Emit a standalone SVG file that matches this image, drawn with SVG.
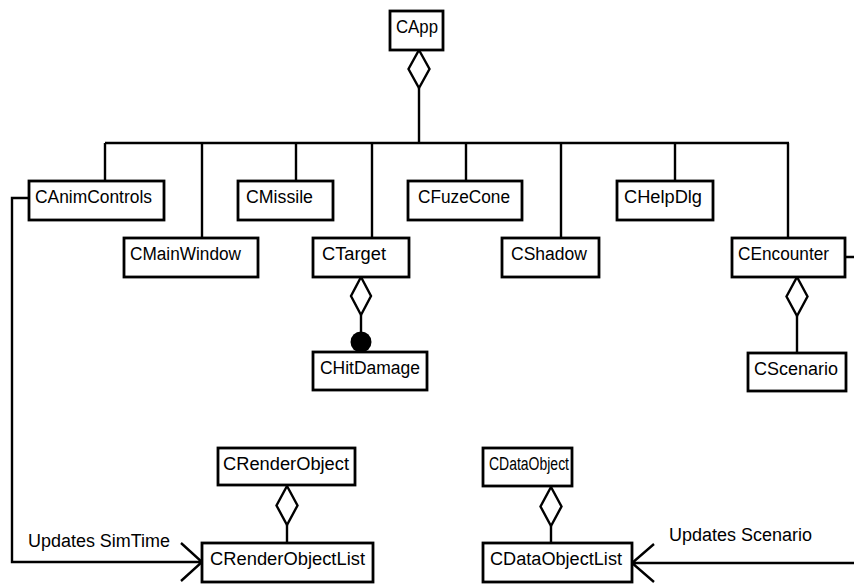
<svg xmlns="http://www.w3.org/2000/svg" width="854" height="584" viewBox="0 0 854 584">
<style>
.box{fill:#fff;stroke:#000;stroke-width:2.8}
.t{font-family:"Liberation Sans",Arial,sans-serif;font-size:18px;fill:#000}
.ln{fill:none;stroke:#000;stroke-width:2.4}
.dia{fill:#fff;stroke:#000;stroke-width:2.4}
</style>
<rect width="854" height="584" fill="#fff"/>
<g id="connectors">
<path class="ln" d="M419 88V143M105 143H789M105 143V181M202 143V238M296 143V181M372 143V238M466 143V181M561 143V238M675 143V181M788 143V238"/>
<path class="dia" d="M419 50L429.5 69L419 88L408.5 69Z"/>
<path class="ln" d="M361 315V334"/>
<path class="dia" d="M361 277L371 296L361 315L351 296Z"/>
<circle cx="361" cy="342" r="10.5" fill="#000"/>
<path class="ln" d="M797 316V353"/>
<path class="dia" d="M797 277L807.5 296.5L797 316L786.5 296.5Z"/>
<path class="ln" d="M287 525V543"/>
<path class="dia" d="M287 486L297.5 505.5L287 525L276.5 505.5Z"/>
<path class="ln" d="M551 526V543"/>
<path class="dia" d="M551 487L561.5 506.5L551 526L540.5 506.5Z"/>
<path class="ln" d="M29 198H12V562H202M181 543L202 562L181 581"/>
<path class="ln" d="M845 257H854M854 563H632M654 544L632 563L654 582"/>
</g>
<g id="CApp"><rect class="box" x="390" y="11" width="53" height="39"/><text class="t" x="396" y="33" textLength="42" lengthAdjust="spacingAndGlyphs">CApp</text></g>
<g id="CAnimControls"><rect class="box" x="29" y="181" width="135" height="39"/><text class="t" x="35" y="203" textLength="117" lengthAdjust="spacingAndGlyphs">CAnimControls</text></g>
<g id="CMissile"><rect class="box" x="238" y="181" width="95" height="39"/><text class="t" x="246" y="203" textLength="67" lengthAdjust="spacingAndGlyphs">CMissile</text></g>
<g id="CFuzeCone"><rect class="box" x="408" y="181" width="114" height="39"/><text class="t" x="418" y="203" textLength="92" lengthAdjust="spacingAndGlyphs">CFuzeCone</text></g>
<g id="CHelpDlg"><rect class="box" x="617" y="181" width="96" height="39"/><text class="t" x="624" y="203" textLength="78" lengthAdjust="spacingAndGlyphs">CHelpDlg</text></g>
<g id="CMainWindow"><rect class="box" x="124" y="238" width="134" height="39"/><text class="t" x="130" y="260" textLength="111" lengthAdjust="spacingAndGlyphs">CMainWindow</text></g>
<g id="CTarget"><rect class="box" x="313" y="238" width="96" height="39"/><text class="t" x="322" y="260" textLength="64" lengthAdjust="spacingAndGlyphs">CTarget</text></g>
<g id="CShadow"><rect class="box" x="502" y="238" width="97" height="39"/><text class="t" x="511" y="260" textLength="76" lengthAdjust="spacingAndGlyphs">CShadow</text></g>
<g id="CEncounter"><rect class="box" x="732" y="238" width="113" height="39"/><text class="t" x="738" y="260" textLength="91" lengthAdjust="spacingAndGlyphs">CEncounter</text></g>
<g id="CHitDamage"><rect class="box" x="313" y="352" width="114" height="38"/><text class="t" x="320" y="374" textLength="100" lengthAdjust="spacingAndGlyphs">CHitDamage</text></g>
<g id="CScenario"><rect class="box" x="748" y="353" width="98" height="38"/><text class="t" x="754" y="375" textLength="84" lengthAdjust="spacingAndGlyphs">CScenario</text></g>
<g id="CRenderObject"><rect class="box" x="218" y="448" width="137" height="37"/><text class="t" x="223" y="470" textLength="126" lengthAdjust="spacingAndGlyphs">CRenderObject</text></g>
<g id="CDataObject"><rect class="box" x="483" y="448" width="89" height="38"/><text class="t" x="489" y="470" textLength="80" lengthAdjust="spacingAndGlyphs">CDataObject</text></g>
<g id="CRenderObjectList"><rect class="box" x="202" y="543" width="171" height="39"/><text class="t" x="210" y="565" textLength="155" lengthAdjust="spacingAndGlyphs">CRenderObjectList</text></g>
<g id="CDataObjectList"><rect class="box" x="483" y="543" width="149" height="39"/><text class="t" x="490" y="565" textLength="132" lengthAdjust="spacingAndGlyphs">CDataObjectList</text></g>
<g id="labels">
<text class="t" x="28" y="547" textLength="142" lengthAdjust="spacingAndGlyphs">Updates  SimTime</text>
<text class="t" x="669" y="541" textLength="143" lengthAdjust="spacingAndGlyphs">Updates  Scenario</text>
</g>
</svg>
